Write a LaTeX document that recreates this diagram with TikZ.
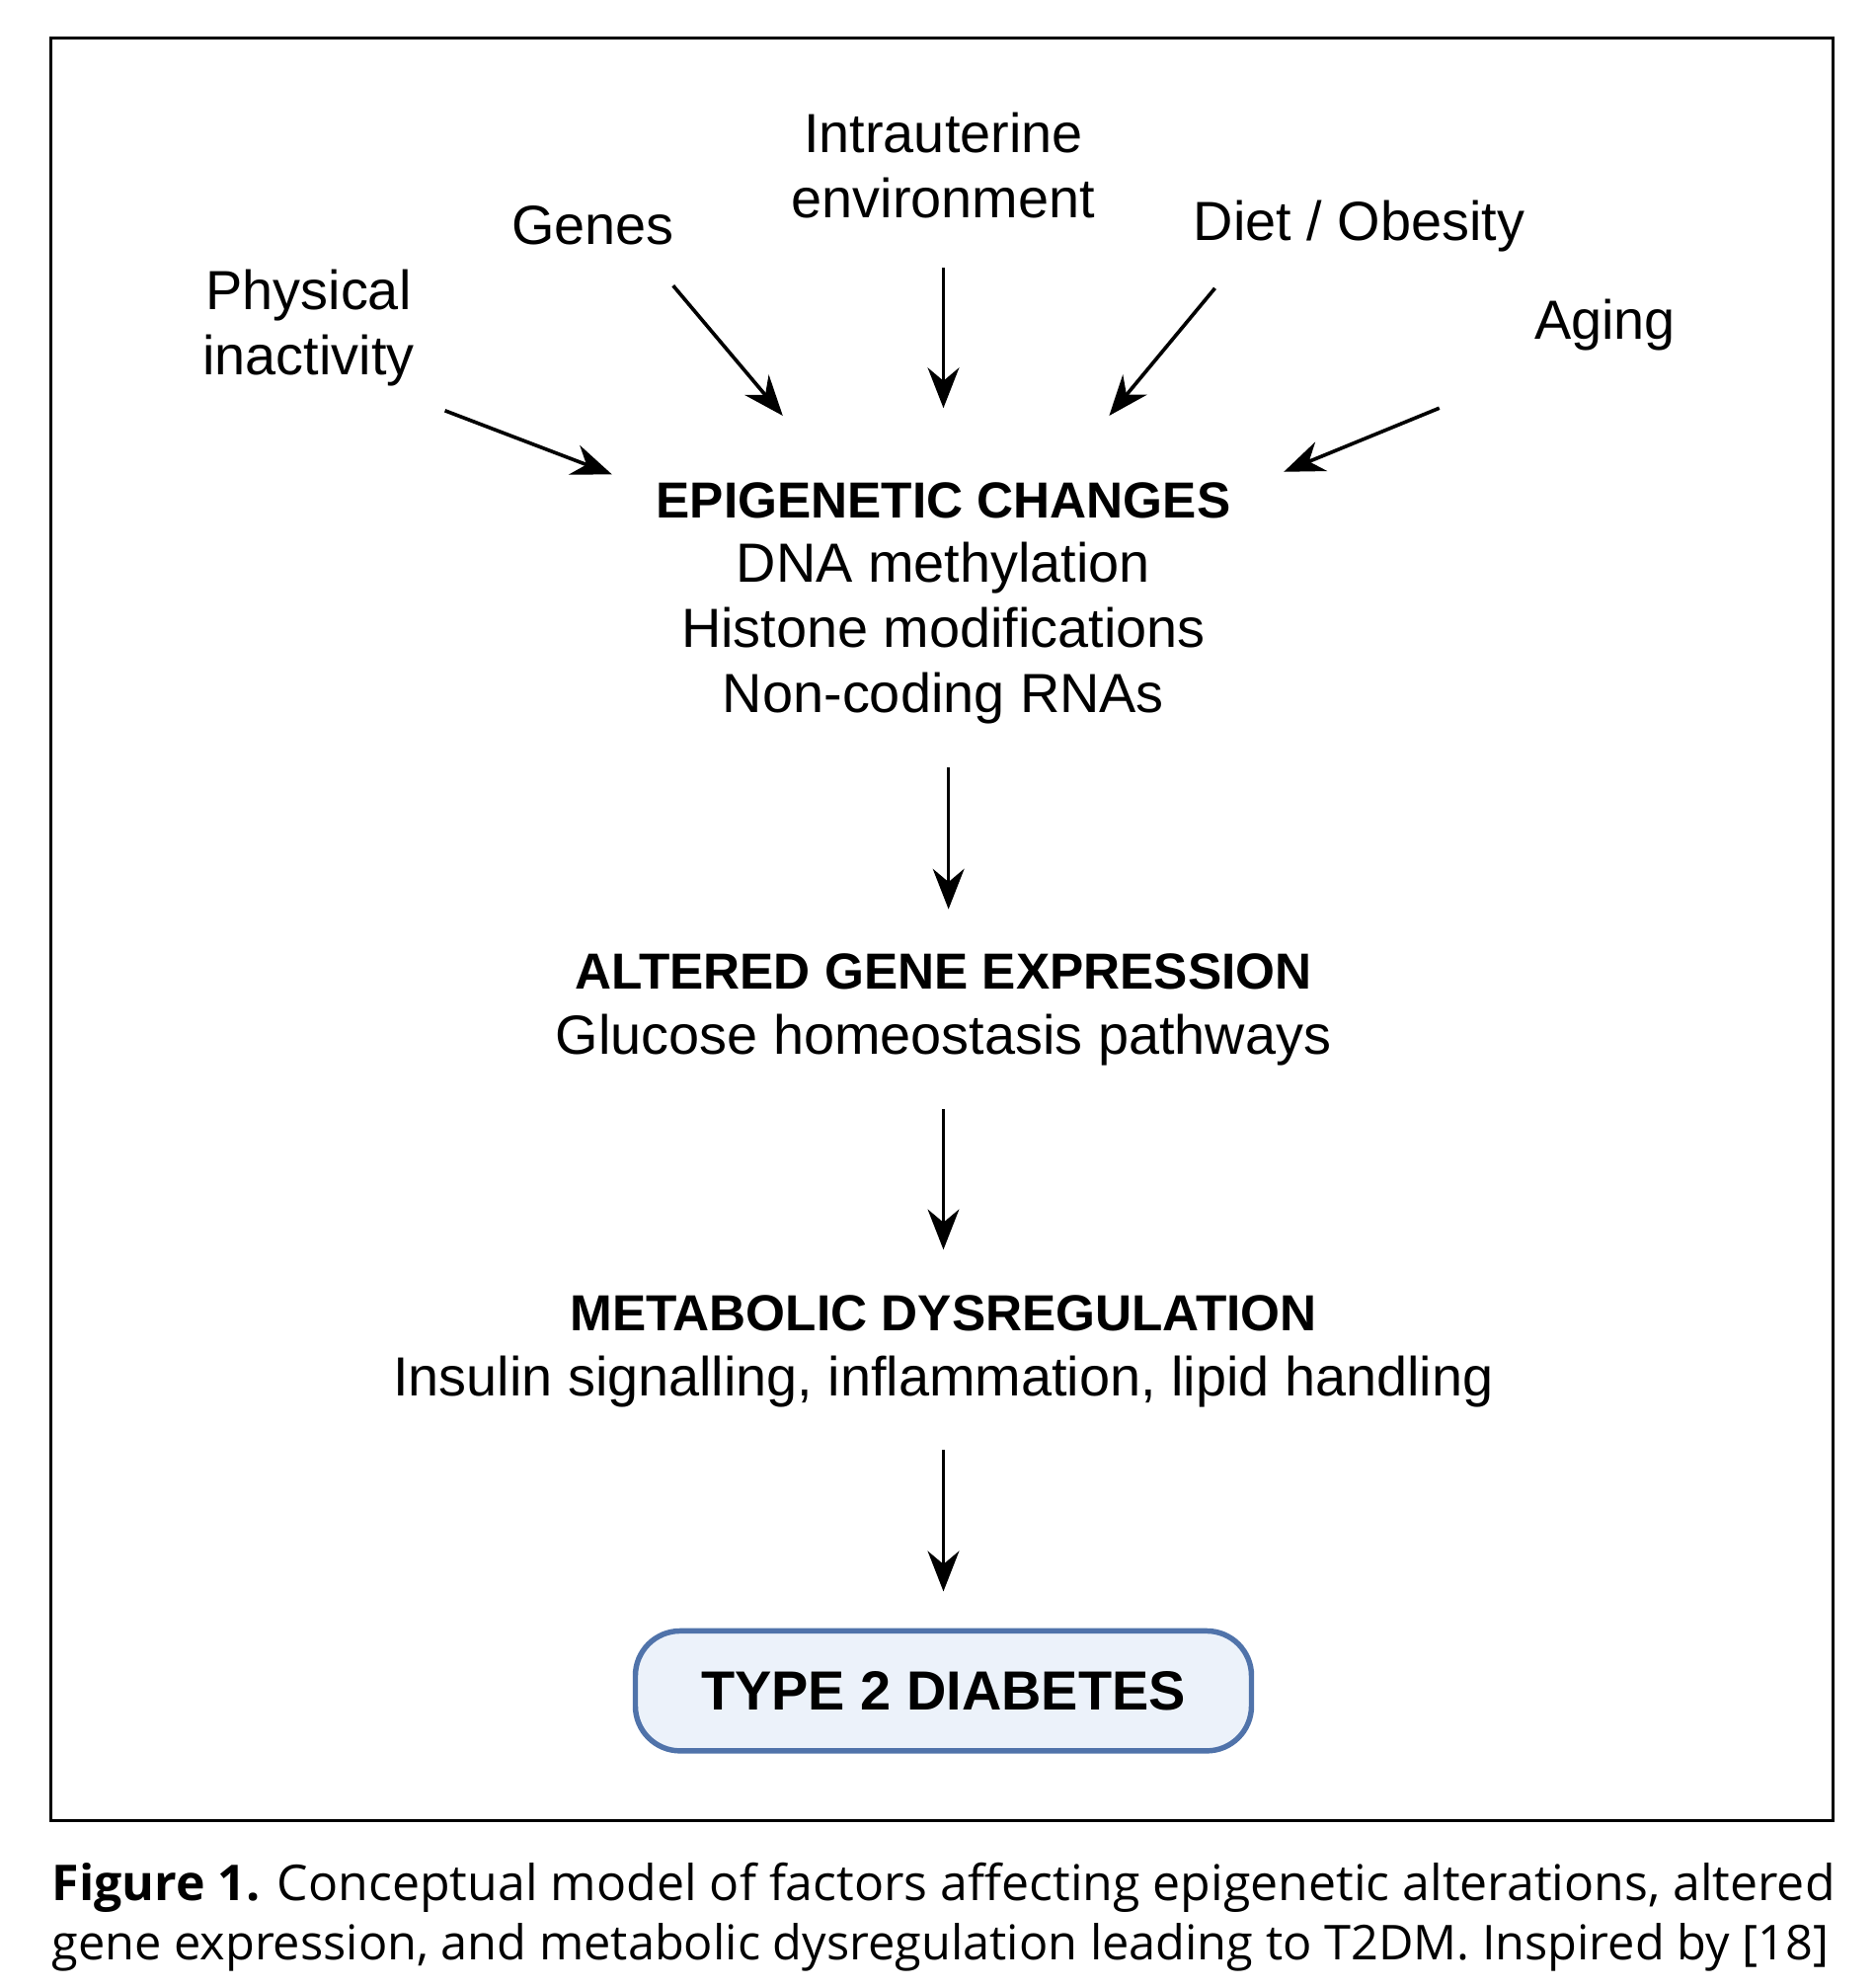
\documentclass[tikz,border=0pt]{standalone}
\usepackage{fontspec}
\setmainfont{Liberation Sans}
\newfontfamily\capfont{Open Sans}
\usetikzlibrary{arrows.meta}
\definecolor{boxedge}{RGB}{80,115,170}
\definecolor{boxfill}{RGB}{236,242,250}
\newcommand{\heading}[1]{{\fontsize{11.3}{14.5}\selectfont\bfseries #1}}
\begin{document}
\begin{tikzpicture}[
        x=0.01cm, y=-0.01cm,
        % styles
        factor/.style={align=center, font=\fontsize{12.3}{14.5}\selectfont},
        level/.style={align=center, font=\fontsize{12.3}{14.5}\selectfont},
        flow/.style={-{Stealth[length=9pt,width=7pt]}, line width=0.8pt},
        outcome/.style={draw=boxedge, line width=1.2pt, fill=boxfill,
            rounded corners=10pt, minimum width=4.83cm, minimum height=0.94cm,
            font=\fontsize{12.3}{16}\selectfont\bfseries}
    ]
        \useasboundingbox (0,0) rectangle (1470,1559);
        \draw[line width=0.7pt] (40,30) rectangle (1438,1428);

        % --- factors ---
        \node[factor] (phys) at (242,257) {Physical\\inactivity};
        \node[factor] (genes) at (465,177) {Genes};
        \node[factor] (intra) at (740,130) {Intrauterine\\environment};
        \node[factor] (diet) at (1066,177) {Diet / Obesity};
        \node[factor] (aging) at (1259,255) {Aging};

        % --- levels ---
        \node[level] (epi) at (740,473) {\heading{EPIGENETIC CHANGES}\\DNA methylation\\Histone modifications\\Non-coding RNAs};
        \node[level] (gene) at (740,792) {\heading{ALTERED GENE EXPRESSION}\\Glucose homeostasis pathways};
        \node[level] (meta) at (740,1060) {\heading{METABOLIC DYSREGULATION}\\Insulin signalling, inflammation, lipid handling};
        \node[outcome] (t2d) at (740,1326) {TYPE 2 DIABETES};

        % arrow end points
        \coordinate (p1) at (349,322); \coordinate (q1) at (480,372);
        \coordinate (p2) at (528,224); \coordinate (q2) at (614,326);
        \coordinate (p3) at (740,210); \coordinate (q3) at (740,320);
        \coordinate (p4) at (953,226); \coordinate (q4) at (870,326);
        \coordinate (p5) at (1129,320); \coordinate (q5) at (1007,370);
        \foreach \i in {1,...,5} \draw[flow] (p\i) -- (q\i);

        \draw[flow] (744,602) -- (744,713);
        \draw[flow] (740,870) -- (740,980);
        \draw[flow] (740,1137) -- (740,1248);

        % --- caption ---
        \node[anchor=west, inner sep=0pt] (cap1) at (40,1480) {\resizebox{13.98cm}{!}{\capfont\textbf{Figure 1.} Conceptual model of factors affecting epigenetic alterations, altered}};
        \node[anchor=west, inner sep=0pt] (cap2) at (40,1527) {\resizebox{13.93cm}{!}{\capfont gene expression, and metabolic dysregulation leading to T2DM. Inspired by [18]}};
    \end{tikzpicture}
\end{document}
